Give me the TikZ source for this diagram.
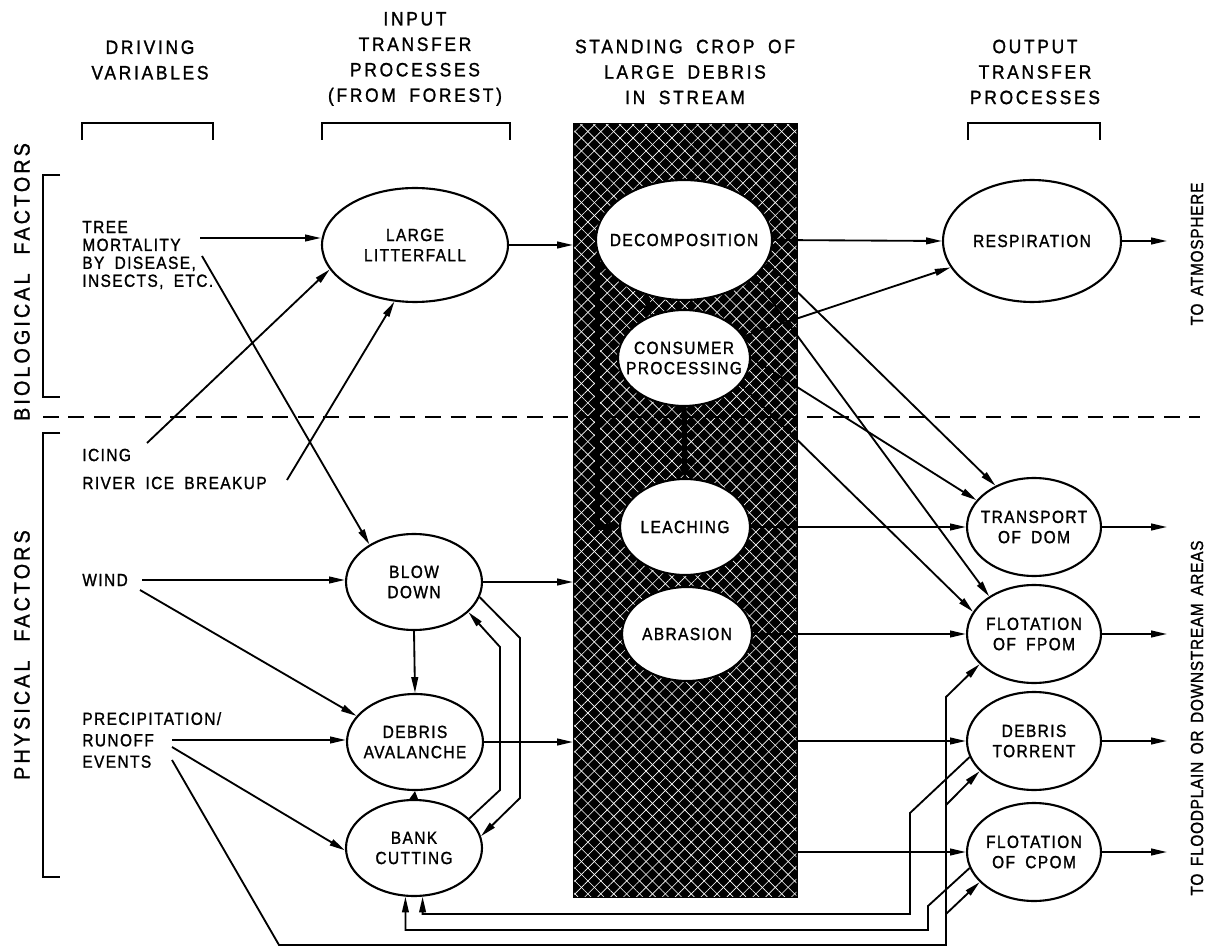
\documentclass[tikz,border=0pt]{standalone}
\usepackage{fontspec}
\setmainfont{Liberation Sans}[FakeStretch=0.88, FakeBold=1.3, LetterSpace=8, WordSpace=1.8]
\newfontfamily\hdfont{Liberation Sans}[FakeStretch=0.9, FakeBold=1.3, LetterSpace=14, WordSpace=1.8]
\newfontfamily\sidefont{Liberation Sans}[FakeStretch=0.9, FakeBold=1.2, LetterSpace=14, WordSpace=2.2]
\newfontfamily\rtfont{Liberation Sans}[FakeStretch=0.88, FakeBold=1.2, LetterSpace=4, WordSpace=1.5]
\usetikzlibrary{arrows.meta, patterns.meta, shapes.geometric}
\begin{document}
\begin{tikzpicture}[x=0.02cm, y=-0.02cm,
  arr/.style={-{Triangle[length=9pt,width=3.8pt]}, line width=1.05pt},
  proc/.style={ellipse, draw, line width=1.2pt, fill=white, inner xsep=-30pt, inner ysep=-14pt,
    align=center, font=\fontsize{10}{11.5}\selectfont},
  lbl/.style={align=left, inner sep=0pt, anchor=west, font=\fontsize{10}{10.5}\selectfont},
  hdr/.style={align=center, inner sep=0pt, font=\hdfont\fontsize{11}{14.5}\selectfont},
  side/.style={rotate=90, inner sep=0pt, font=\sidefont\fontsize{12.5}{14}\selectfont},
  rside/.style={rotate=90, inner sep=0pt, font=\rtfont\fontsize{10}{11}\selectfont},
  thickc/.style={line width=3pt, -{Triangle[length=6pt,width=6pt]}},
  brk/.style={line width=1.2pt},
  hatch/.style={pattern={Lines[angle=#1,distance=5.2pt,line width=0.36pt]}, pattern color=white}
]
\useasboundingbox (0,0) rectangle (1213,952);

% headers
\node[hdr] (hdrv) at (150,60) {DRIVING\\VARIABLES};
\node[hdr] (hinp) at (415,59) {INPUT\\TRANSFER\\PROCESSES\\(FROM FOREST)};
\node[hdr] (hstd) at (685,72) {STANDING CROP OF\\LARGE DEBRIS\\IN STREAM};
\node[hdr] (hout) at (1035,72) {OUTPUT\\TRANSFER\\PROCESSES};
\draw[brk] (82,140) -- (82,123) -- (213,123) -- (213,140);
\draw[brk] (322,140) -- (322,123) -- (510,123) -- (510,140);
\draw[brk] (968,140) -- (968,123) -- (1100,123) -- (1100,140);

% side labels and brackets
\node[side] (bio) at (22,282) {BIOLOGICAL FACTORS};
\node[side] (phy) at (22,655) {PHYSICAL FACTORS};
\draw[brk] (60,175) -- (43,175) -- (43,397) -- (60,397);
\draw[brk] (60,433) -- (43,433) -- (43,877) -- (60,877);
\node[rside] (atm) at (1197,254) {TO ATMOSPHERE};
\node[rside] (fld) at (1197,718) {TO FLOODPLAIN OR DOWNSTREAM AREAS};

% standing crop box
\node[draw, line width=1.6pt, fill=black, postaction={hatch=45}, postaction={hatch=-45},
  minimum width=4.44cm, minimum height=15.44cm, inner sep=0pt, anchor=north west] (box) at (573,123) {};

% dashed divider
\draw[line width=1.2pt, dash pattern=on 9pt off 5.5pt] (43,417) -- (1200,417);

% driving variables
\node[lbl, font=\fontsize{10}{10.2}\selectfont] (tree) at (82,255) {TREE\\MORTALITY\\BY DISEASE,\\INSECTS, ETC.};
\node[lbl] (icing) at (82,455) {ICING};
\node[lbl] (river) at (82,483) {RIVER ICE BREAKUP};
\node[lbl] (wind) at (82,580) {WIND};
\node[lbl, font=\fontsize{10}{12.2}\selectfont] (precip) at (82,740) {PRECIPITATION/\\RUNOFF\\EVENTS};
\coordinate (tA) at (200,238);
\coordinate (tB) at (202,256);
\coordinate (ic) at (147,443);
\coordinate (ri) at (287,480);
\coordinate (wA) at (142,580);
\coordinate (wB) at (140,590);
\coordinate (pA) at (172,740);
\coordinate (pB) at (172,747);
\coordinate (pC) at (172,760);
\coordinate (ox) at (1167,0);

% input ellipses
\node[proc, minimum width=3.72cm, minimum height=2.28cm] (ll) at (415,245) {LARGE\\LITTERFALL};
\node[proc, minimum width=2.72cm, minimum height=1.92cm] (bd) at (414,582) {BLOW\\DOWN};
\node[proc, minimum width=2.72cm, minimum height=1.92cm] (da) at (415,742) {DEBRIS\\AVALANCHE};
\node[proc, minimum width=2.72cm, minimum height=1.92cm] (bank) at (414,848) {BANK\\CUTTING};
% central ellipses
\node[proc, minimum width=3.52cm, minimum height=2.4cm] (dec) at (684,240) {DECOMPOSITION};
\node[proc, minimum width=2.64cm, minimum height=1.92cm] (con) at (684,358) {CONSUMER\\PROCESSING};
\node[proc, minimum width=2.6cm, minimum height=1.92cm] (lea) at (685,527) {LEACHING};
\node[proc, minimum width=2.6cm, minimum height=1.88cm] (abr) at (687,634) {ABRASION};
% output ellipses
\node[proc, minimum width=3.56cm, minimum height=2.44cm] (resp) at (1032,241) {RESPIRATION};
\node[proc, minimum width=2.68cm, minimum height=1.96cm] (tdom) at (1034,527) {TRANSPORT\\OF DOM};
\node[proc, minimum width=2.68cm, minimum height=1.96cm] (fpom) at (1034,634) {FLOTATION\\OF FPOM};
\node[proc, minimum width=2.68cm, minimum height=1.96cm] (tor) at (1034,741) {DEBRIS\\TORRENT};
\node[proc, minimum width=2.68cm, minimum height=1.96cm] (cpom) at (1034,852) {FLOTATION\\OF CPOM};

% thick connectors in the box
\draw[thickc] (dec.190) |- (lea.west);
\draw[thickc] (con.south) -- (lea.north);
\draw[thickc] (dec.235) -- (con.128);

% driving -> input
\draw[arr] (tA) -- (tA -| ll.west);
\draw[arr] (tB) -- (bd.140);
\draw[arr] (ic) -- (ll.196);
\draw[arr] (ri) -- (ll.250);
\draw[arr] (wA) -- (wA -| bd.west);
\draw[arr] (wB) -- (da.156);
\draw[arr] (pA) -- (pA -| da.west);
\draw[arr] (pB) -- (bank.182);
\draw[arr] (pC) -- (279,945) -- (946,945) -- (946,697) -- (fpom.209);
\draw[arr] (946,805) -- (tor.209);
\draw[arr] (946,914) -- (cpom.209);

% among input processes
\draw[arr] (bd.south) -- (da.north);
\draw[-{Triangle[length=5pt,width=5pt]}, line width=1.05pt] (bank.north) -- (da.south);
\draw[arr] (bank.28) -- (500,790) -- (500,647) -- (bd.-29);
\draw[arr] (bd.-13) -- (520,638) -- (520,798) -- (bank.10);

% input -> box
\draw[arr] (ll.east) -- (ll.east -| box.west);
\draw[arr] (bd.east) -- (bd.east -| box.west);
\draw[arr] (da.east) -- (da.east -| box.west);

% box -> outputs
\draw[arr] (dec.east) -- (resp.west);
\draw[arr] (con.20) -- (resp.198);
\draw[arr] (dec.-15) -- (tdom.133);
\draw[arr] (dec.-28) -- (fpom.140);
\draw[arr] (con.0) -- (tdom.155);
\draw[arr] (con.-25) -- (fpom.160);
\draw[arr] (lea.east) -- (tdom.west);
\draw[arr] (abr.east) -- (fpom.west);
\draw[arr] (box.east |- tor.west) -- (tor.west);
\draw[arr] (box.east |- cpom.west) -- (cpom.west);

% returns to bank cutting
\draw[arr] (tor.194) -- (910,813) -- (910,914) -| (bank.-80);
\draw[arr] (cpom.194) -- (928,906) -- (928,930) -| (bank.-100);

% outputs out
\draw[arr] (resp.east) -- (resp.east -| ox);
\draw[arr] (tdom.east) -- (tdom.east -| ox);
\draw[arr] (fpom.east) -- (fpom.east -| ox);
\draw[arr] (tor.east) -- (tor.east -| ox);
\draw[arr] (cpom.east) -- (cpom.east -| ox);
\end{tikzpicture}
\end{document}
